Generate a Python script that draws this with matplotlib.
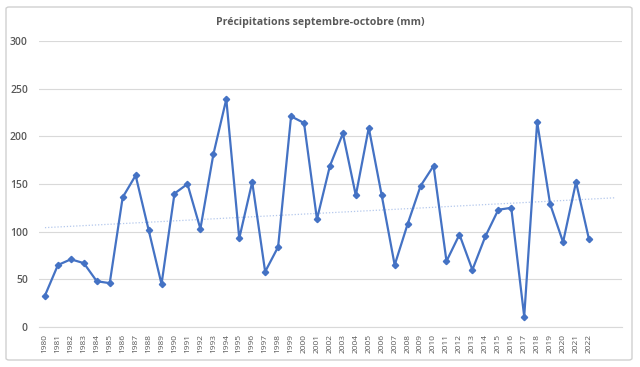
import matplotlib
matplotlib.use('Agg')
import matplotlib.pyplot as plt
import matplotlib.patches as mpatch
import numpy as np

BLUE = '#4472c4'
TREND = '#b4c8ec'
GRID = '#d9d9d9'
TEXT = '#595959'

TITLE = 'Précipitations septembre-octobre (mm)'

# years and rainfall (mm)
years = list(range(1980, 2023))
rain = [33, 65, 71, 67, 48, 46, 136, 159, 102, 45,
        140, 150, 103, 181, 239, 93, 152, 58, 84, 221,
        214, 113, 169, 203, 138, 209, 138, 65, 108, 148,
        169, 69, 97, 60, 95, 123, 125, 11, 215, 129,
        89, 152, 92]
yticks = [0, 50, 100, 150, 200, 250, 300]

plt.rcParams['font.family'] = ['Open Sans', 'DejaVu Sans']

fig = plt.figure(figsize=(6.4, 3.67), dpi=100)
ax = fig.add_axes([39/640, 40/367, 583/640, 286/367])

# light frame around the whole chart like excel
frame = mpatch.FancyBboxPatch((6/640, 7/367), 626/640, 353/367,
                              boxstyle='round,pad=0,rounding_size=0.005',
                              transform=fig.transFigure, facecolor='none',
                              edgecolor='#d0d0d0', linewidth=1.0)
fig.patches.append(frame)

# linear trend, extended two years forward
x = np.array(years)
y = np.array(rain)
k, b = np.polyfit(x, y, 1)
xt = np.array([years[0], years[-1] + 2])
ax.plot(xt, k * xt + b, color=TREND, linewidth=0.9, linestyle=(0, (1, 1.5)), zorder=2)

ax.plot(years, rain, color=BLUE, linewidth=1.6, marker='D', markersize=3.2, zorder=3)

ax.set_xlim(1979.54, 2024.55)
ax.set_ylim(0, 300)
ax.set_yticks(yticks)
ax.set_xticks(years)
ax.set_xticklabels([str(v) for v in years], rotation=90, fontsize=6, color=TEXT)
ax.set_yticklabels([str(v) for v in yticks], fontsize=7.5, color=TEXT, fontweight='semibold')
ax.tick_params(axis='y', length=0, pad=8)
ax.tick_params(axis='x', length=0, pad=5)
ax.grid(axis='y', color=GRID, linewidth=0.8)
ax.set_axisbelow(True)
for s in ['top', 'right', 'left']:
    ax.spines[s].set_visible(False)
ax.spines['bottom'].set_color(GRID)
ax.spines['bottom'].set_linewidth(0.8)

fig.text(320/640, 1 - 22/367, TITLE, ha='center', va='center',
         fontsize=7.6, fontweight='bold', color=TEXT)

fig.savefig('out.png', dpi=100)
